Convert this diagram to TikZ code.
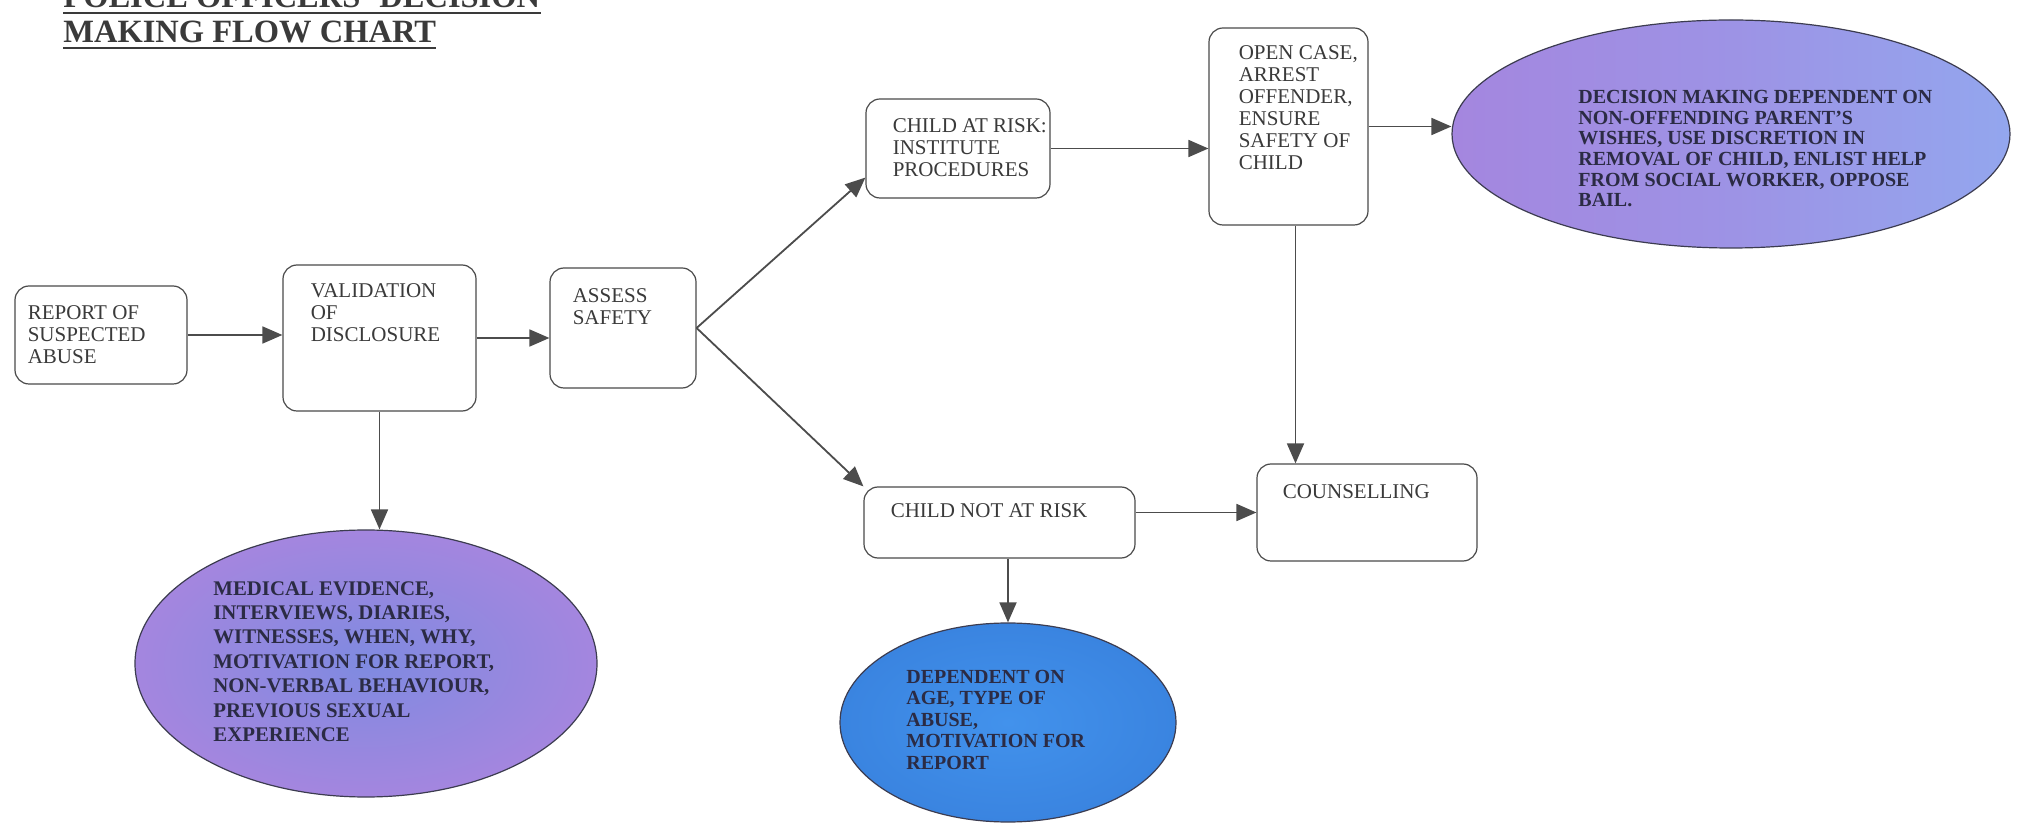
\documentclass[tikz,border=0pt]{standalone}
\usepackage{fontspec}
\setmainfont{Liberation Serif}
\usetikzlibrary{arrows.meta,shapes.geometric,calc}

\definecolor{boxline}{HTML}{4A4A4A}
\definecolor{boxtext}{HTML}{3A3A3A}
\definecolor{flowline}{HTML}{4C4C4C}
\definecolor{ovaltext}{HTML}{2B2B44}
\definecolor{ovalline}{HTML}{3C3C50}
\definecolor{lilac}{HTML}{A486DF}
\definecolor{periwinkle}{HTML}{7F8AE0}
\definecolor{skyblue}{HTML}{93A6EE}
\definecolor{brightblue}{HTML}{4292EC}
\definecolor{deepblue}{HTML}{3A84E0}

\begin{document}
\begin{tikzpicture}[x=0.5pt,y=-0.5pt,
  stepbox/.style={draw=boxline,line width=0.6pt,rounded corners=7pt,inner sep=0pt},
  boxlabel/.style={anchor=north west,inner sep=0pt,align=left,text=boxtext,
    font=\fontsize{10.5}{11}\selectfont},
  oval/.style={ellipse,draw=ovalline,line width=0.6pt,inner sep=0pt},
  ovallabel/.style 2 args={anchor=north west,inner sep=0pt,align=left,text=ovaltext,
    font=\bfseries\fontsize{#1}{#2}\selectfont},
  flow/.style={draw=flowline,line width=0.9pt,
    -{Triangle[length=10pt,width=8.5pt]}},
  titletext/.style={anchor=base west,inner sep=0pt,text=boxtext,
    font=\bfseries\fontsize{16.25}{18}\selectfont},
  titlerule/.style={draw=boxtext,line width=1.2pt}
]
\useasboundingbox[fill=white] (0,0) rectangle (2026,823);

% heading
\node[titletext] (head1) at (63,8) {POLICE OFFICERS’ DECISION};
\node[titletext] (head2) at (63,43) {MAKING FLOW CHART};
\draw[titlerule] ([yshift=-2.5pt]head1.base west) -- ([yshift=-2.5pt]head1.base east);
\draw[titlerule] ([yshift=-2.5pt]head2.base west) -- ([yshift=-2.5pt]head2.base east);

% process boxes
\node[stepbox,minimum width=86pt,minimum height=49pt] (report) at (101,335) {};
\node[stepbox,minimum width=96.5pt,minimum height=73pt] (valid) at (379.5,338) {};
\node[stepbox,minimum width=73pt,minimum height=60pt] (assess) at (623,328) {};
\node[stepbox,minimum width=92pt,minimum height=49.5pt] (atrisk) at (958,148.5) {};
\node[stepbox,minimum width=79.5pt,minimum height=98.5pt] (open) at (1288.5,126.5) {};
\node[stepbox,minimum width=110pt,minimum height=48.5pt] (couns) at (1367,512.5) {};
\node[stepbox,minimum width=135.5pt,minimum height=35.5pt] (notrisk) at (999.5,522.5) {};

\node[boxlabel] (report-t) at ([shift={(13,20)}]report.north west) {REPORT OF\\SUSPECTED\\ABUSE};
\node[boxlabel] (valid-t) at ([shift={(28,19)}]valid.north west) {VALIDATION\\OF\\DISCLOSURE};
\node[boxlabel] (assess-t) at ([shift={(23,21)}]assess.north west) {ASSESS\\SAFETY};
\node[boxlabel] (atrisk-t) at ([shift={(27,20)}]atrisk.north west) {CHILD AT RISK:\\INSTITUTE\\PROCEDURES};
\node[boxlabel] (open-t) at ([shift={(30,18)}]open.north west) {OPEN CASE,\\ARREST\\OFFENDER,\\ENSURE\\SAFETY OF\\CHILD};
\node[boxlabel] (couns-t) at ([shift={(26,21)}]couns.north west) {COUNSELLING};
\node[boxlabel] (notrisk-t) at ([shift={(27,17)}]notrisk.north west) {CHILD NOT AT RISK};

% outcome ovals
\node[oval,minimum width=279pt,minimum height=114pt,
  left color=lilac,right color=skyblue,middle color=lilac!60!skyblue] (decision) at (1731,134) {};
\node[oval,minimum width=231pt,minimum height=133.5pt,
  inner color=periwinkle,outer color=lilac] (evidence) at (366,663.5) {};
\node[oval,minimum width=168pt,minimum height=99.5pt,
  inner color=brightblue,outer color=deepblue] (factors) at (1008,722.5) {};

\node[ovallabel={10pt}{10.3pt}] (decision-t) at (1578,90)
  {DECISION MAKING DEPENDENT ON\\NON-OFFENDING PARENT’S\\WISHES, USE DISCRETION IN\\REMOVAL OF CHILD, ENLIST HELP\\FROM SOCIAL WORKER, OPPOSE\\BAIL.};
\node[ovallabel={10.4pt}{12.2pt}] (evidence-t) at (213,581)
  {MEDICAL EVIDENCE,\\INTERVIEWS, DIARIES,\\WITNESSES, WHEN, WHY,\\MOTIVATION FOR REPORT,\\NON-VERBAL BEHAVIOUR,\\PREVIOUS SEXUAL\\EXPERIENCE};
\node[ovallabel={10pt}{10.75pt}] (factors-t) at (906,669.5)
  {DEPENDENT ON\\AGE, TYPE OF\\ABUSE,\\MOTIVATION FOR\\REPORT};

% connectors
\coordinate (risktip) at ($(atrisk.south west)+(0,-21)$);
\coordinate (drop) at ($(open.south)+(7,0)$);
\draw[flow] (report.east) -- (report.east -| valid.west);
\draw[flow] (valid.east) -- (valid.east -| assess.west);
\draw[flow] (assess.east) -- (risktip);
\draw[flow] (assess.east) -- (notrisk.north west);
\draw[flow] (atrisk.east) -- (atrisk.east -| open.west);
\draw[flow] (open.east) -- (open.east -| decision.west);
\draw[flow] (drop) -- (drop |- couns.north);
\draw[flow] (notrisk.east |- couns.west) -- (couns.west);
\draw[flow] (notrisk.south -| factors.north) -- (factors.north);
\draw[flow] (valid.south) -- (valid.south |- evidence.north);
\end{tikzpicture}
\end{document}
